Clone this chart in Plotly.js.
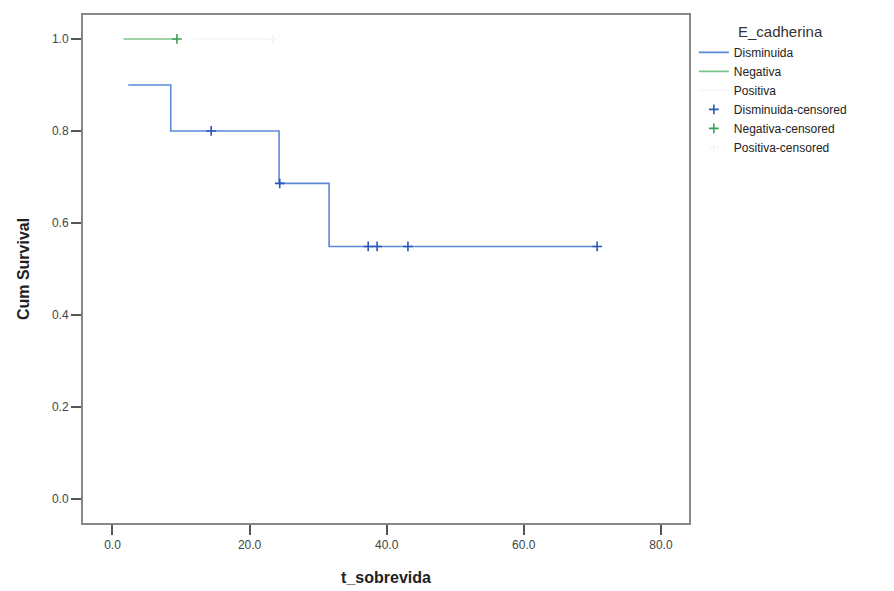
<!DOCTYPE html>
<html>
<head>
<meta charset="utf-8">
<script src="https://cdn.plot.ly/plotly-3.0.1.min.js"></script>
<style>html,body{margin:0;padding:0;background:#fff;}#chart{width:894px;height:591px;}</style>
</head>
<body>
<div id="chart"></div>
<script>
// Disminuida step curve
const dimX = [2.3, 8.5, 24.3, 31.6, 70.7];
const dimY = [0.9, 0.8, 0.686, 0.549, 0.549];
const dimCensX = [14.4, 24.4, 37.3, 38.6, 43.1, 70.7];
const dimCensY = [0.8, 0.686, 0.549, 0.549, 0.549, 0.549];
// Negativa
const negX = [1.6, 9.4];
const negY = [1.0, 1.0];
const negCensX = [9.4];
const negCensY = [1.0];
// Positiva (drawn almost white in the original)
const posX = [11.7, 23.4];
const posY = [1.0, 1.0];
const posCensX = [23.4];
const posCensY = [1.0];

const xTicks = [0, 20, 40, 60, 80];
const yTicks = [0, 0.2, 0.4, 0.6, 0.8, 1.0];
const legendTitle = 'E_cadherina';

const blue = '#5a8ad8', blueDark = '#2a56b8', green = '#7cc48a', greenDark = '#3f9e55', faint = '#f6f6f6';

const traces = [
  {x: dimX, y: dimY, mode: 'lines', line: {shape: 'hv', color: blue, width: 1.6}, name: 'Disminuida'},
  {x: negX, y: negY, mode: 'lines', line: {shape: 'hv', color: green, width: 1.6}, name: 'Negativa'},
  {x: posX, y: posY, mode: 'lines', line: {shape: 'hv', color: faint, width: 1.6}, name: 'Positiva'},
  {x: dimCensX, y: dimCensY, mode: 'markers', marker: {symbol: 'cross-thin', size: 7, line: {color: blueDark, width: 1.6}}, name: 'Disminuida-censored'},
  {x: negCensX, y: negCensY, mode: 'markers', marker: {symbol: 'cross-thin', size: 7, line: {color: greenDark, width: 1.6}}, name: 'Negativa-censored'},
  {x: posCensX, y: posCensY, mode: 'markers', marker: {symbol: 'cross-thin', size: 7, line: {color: faint, width: 1.6}}, name: 'Positiva-censored'}
];

const layout = {
  width: 894, height: 591,
  margin: {l: 83, r: 205, t: 15, b: 68},
  paper_bgcolor: '#ffffff', plot_bgcolor: '#ffffff',
  font: {family: 'Liberation Sans, Arial, sans-serif', color: '#333'},
  showlegend: true,
  legend: {
    x: 1.008, y: 0.955, xanchor: 'left', yanchor: 'top',
    font: {size: 12, color: '#222'},
    tracegroupgap: 0, itemwidth: 30, bgcolor: 'rgba(0,0,0,0)'
  },
  annotations: [{
    text: legendTitle, xref: 'paper', yref: 'paper', x: 1.078, y: 0.988,
    xanchor: 'left', yanchor: 'top', showarrow: false,
    font: {size: 15, color: '#333'}
  }],
  xaxis: {
    range: [-4.3, 84.1], tickvals: xTicks, tickformat: '.1f',
    ticks: 'outside', ticklen: 10, tickwidth: 2, tickcolor: '#555',
    showline: true, linecolor: '#888', linewidth: 2, mirror: true,
    showgrid: false, zeroline: false,
    tickfont: {size: 12, color: '#444'},
    title: {text: 't_sobrevida', font: {size: 16, color: '#222', family: 'Liberation Sans, Arial, sans-serif', weight: 'bold'}, standoff: 20}
  },
  yaxis: {
    range: [-0.052, 1.052], tickvals: yTicks, tickformat: '.1f',
    ticks: 'outside', ticklen: 10, tickwidth: 2, tickcolor: '#555',
    showline: true, linecolor: '#888', linewidth: 2, mirror: true,
    showgrid: false, zeroline: false,
    tickfont: {size: 12, color: '#444'},
    title: {text: 'Cum Survival', font: {size: 16, color: '#222', family: 'Liberation Sans, Arial, sans-serif', weight: 'bold'}, standoff: 18}
  }
};

Plotly.newPlot('chart', traces, layout, {displayModeBar: false, staticPlot: true});
</script>
</body>
</html>
